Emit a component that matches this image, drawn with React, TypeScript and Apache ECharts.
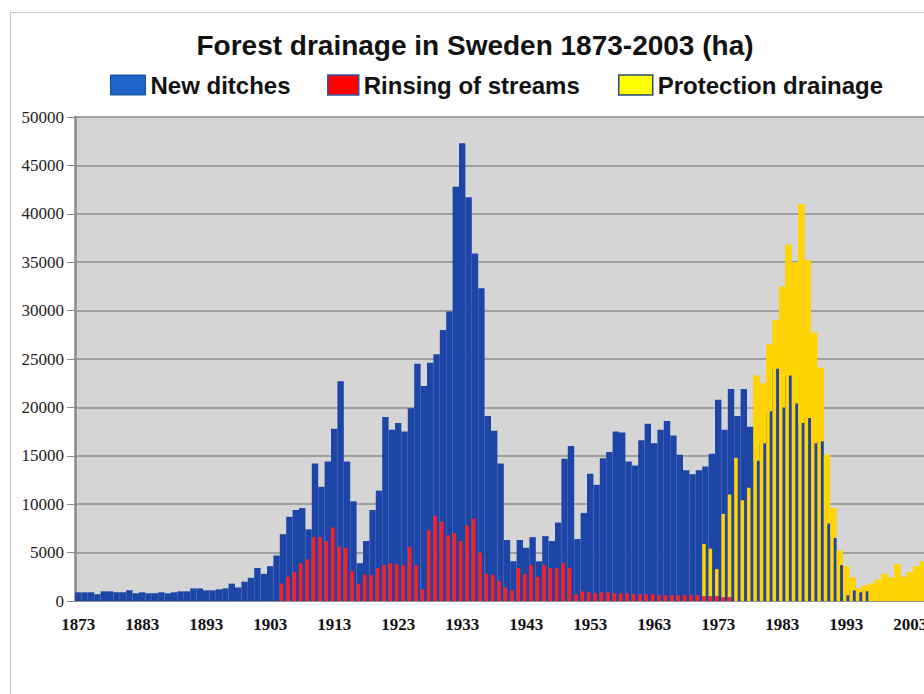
import React, { useEffect, useRef } from "react";
import * as echarts from "echarts";

const years = [
  "1873","1874","1875","1876","1877","1878","1879","1880","1881","1882",
  "1883","1884","1885","1886","1887","1888","1889","1890","1891","1892",
  "1893","1894","1895","1896","1897","1898","1899","1900","1901","1902",
  "1903","1904","1905","1906","1907","1908","1909","1910","1911","1912",
  "1913","1914","1915","1916","1917","1918","1919","1920","1921","1922",
  "1923","1924","1925","1926","1927","1928","1929","1930","1931","1932",
  "1933","1934","1935","1936","1937","1938","1939","1940","1941","1942",
  "1943","1944","1945","1946","1947","1948","1949","1950","1951","1952",
  "1953","1954","1955","1956","1957","1958","1959","1960","1961","1962",
  "1963","1964","1965","1966","1967","1968","1969","1970","1971","1972",
  "1973","1974","1975","1976","1977","1978","1979","1980","1981","1982",
  "1983","1984","1985","1986","1987","1988","1989","1990","1991","1992",
  "1993","1994","1995","1996","1997","1998","1999","2000","2001","2002",
  "2003","2004","2005","2006"
];

// New ditches (ha), 1873..2006
const newDitches = [
  900, 900, 900, 700, 1000, 1000, 900, 900, 1100, 800,
  900, 800, 800, 900, 800, 900, 1000, 1000, 1300, 1300,
  1100, 1100, 1200, 1300, 1800, 1400, 2000, 2400, 3400, 2800,
  3600, 4700, 6900, 8700, 9400, 9600, 7400, 14200, 11800, 14400,
  17800, 22700, 14400, 10300, 3900, 6200, 9400, 11400, 19000, 17700,
  18400, 17500, 19900, 24500, 22200, 24600, 25500, 28000, 29900, 42800,
  47300, 41700, 35900, 32300, 19100, 17600, 14200, 6300, 4100, 6300,
  5500, 6600, 4100, 6700, 6200, 8100, 14700, 16000, 6400, 9100,
  13150, 12000, 14750, 15400, 17500, 17400, 14400, 14000, 16600, 18300,
  16300, 17700, 18600, 17100, 15100, 13500, 13100, 13500, 13900, 15200,
  20800, 17700, 21900, 19100, 21900, 18000, 14500, 16300, 19600, 24000,
  20000, 23300, 20400, 18400, 18900, 16300, 16500, 8000, 6500, 3700,
  600, 1100, 900, 1000, null, null, null, null, null, null,
  null, null, null, null
];

// Rinsing of streams (ha), 1873..2006
const rinsingStreams = [
  null, null, null, null, null, null, null, null, null, null,
  null, null, null, null, null, null, null, null, null, null,
  null, null, null, null, null, null, null, null, null, null,
  null, null, 1800, 2500, 3000, 3900, 4300, 6600, 6600, 6200,
  7600, 5600, 5500, 3100, 1800, 2700, 2700, 3400, 3700, 3900,
  3800, 3700, 5600, 3700, 1200, 7300, 8800, 8200, 6800, 7000,
  6200, 7800, 8500, 5000, 2800, 2700, 2100, 1400, 1100, 3400,
  2800, 3700, 2500, 3700, 3400, 3400, 3900, 3400, 700, 1000,
  900, 800, 900, 900, 800, 800, 800, 700, 700, 700,
  700, 600, 600, 600, 600, 600, 600, 600, 500, 500,
  500, 400, 400, null, null, null, null, null, null, null,
  null, null, null, null, null, null, null, null, null, null,
  null, null, null, null, null, null, null, null, null, null,
  null, null, null, null
];

// Protection drainage (ha), 1873..2006
const protectionDrainage = [
  null, null, null, null, null, null, null, null, null, null,
  null, null, null, null, null, null, null, null, null, null,
  null, null, null, null, null, null, null, null, null, null,
  null, null, null, null, null, null, null, null, null, null,
  null, null, null, null, null, null, null, null, null, null,
  null, null, null, null, null, null, null, null, null, null,
  null, null, null, null, null, null, null, null, null, null,
  null, null, null, null, null, null, null, null, null, null,
  null, null, null, null, null, null, null, null, null, null,
  null, null, null, null, null, null, null, null, 5400, 4900,
  2800, 8600, 10600, 14800, 10400, 11700, 23300, 22500, 26500, 29000,
  32500, 36800, 35000, 41000, 35200, 27700, 24100, 15100, 9600, 5200,
  3600, 2400, 1300, 1600, 1800, 2200, 2800, 2400, 3800, 2500,
  3000, 3600, 4100, null
];

const yTicks = { min: 0, max: 50000, interval: 5000 };

export default function App() {
  const ref = useRef<HTMLDivElement>(null);
  useEffect(() => {
    if (!ref.current) return;
    const chart = echarts.init(ref.current, null, { renderer: "svg" });
    const legendText = {
      fontFamily: "Liberation Sans",
      fontWeight: "bold",
      fontSize: 24,
      color: "#111",
    };
    const gaps = { barGap: "-100%", barCategoryGap: "0%" };
    const BLUE = "#1d45a8";
    const RED = "#ff1f1f";
    const YELLOW = "#ffd400";
    chart.setOption({
      animation: false,
      backgroundColor: "transparent",
      title: {
        text: "Forest drainage in Sweden 1873-2003 (ha)",
        left: "center",
        top: 26,
        textStyle: {
          fontFamily: "Liberation Sans",
          fontWeight: "bold",
          fontSize: 28,
          color: "#111",
        },
      },
      legend: [
        {
          left: 110, top: 73, padding: 0, itemWidth: 35, itemHeight: 20,
          icon: "rect", textStyle: legendText, selectedMode: false,
          data: [{ name: "New ditches", itemStyle: { color: "#1f64c8", borderColor: "#1a4a9a", borderWidth: 1 } }],
        },
        {
          left: 327, top: 73, padding: 0, itemWidth: 31, itemHeight: 20,
          icon: "rect", textStyle: legendText, selectedMode: false,
          data: [{ name: "Rinsing of streams", itemStyle: { color: "#ff0000", borderColor: "#2a5aa8", borderWidth: 1.5 } }],
        },
        {
          left: 618, top: 73, padding: 0, itemWidth: 34, itemHeight: 20,
          icon: "rect", textStyle: legendText, selectedMode: false,
          data: [{ name: "Protection drainage", itemStyle: { color: "#ffff00", borderColor: "#2a4a78", borderWidth: 1.5 } }],
        },
      ],
      grid: {
        left: 75, right: 17.4, top: 117, bottom: 93,
        show: true, backgroundColor: "#d5d5d5", borderWidth: 0,
      },
      xAxis: {
        type: "category",
        data: years,
        boundaryGap: true,
        axisLine: { lineStyle: { color: "#8a8a8a", width: 1.5 } },
        axisTick: { interval: 4, length: 6, lineStyle: { color: "#8a8a8a" } },
        axisLabel: {
          interval: 9, margin: 15,
          fontFamily: "Liberation Serif", fontWeight: "bold", fontSize: 17, color: "#111",
        },
        splitLine: { show: false },
      },
      yAxis: {
        type: "value",
        min: yTicks.min, max: yTicks.max, interval: yTicks.interval,
        axisLine: { show: true, lineStyle: { color: "#8a8a8a", width: 2.5 } },
        axisTick: { show: true, length: 8, lineStyle: { color: "#8a8a8a" } },
        axisLabel: {
          margin: 11, fontFamily: "Liberation Serif", fontSize: 17, color: "#222",
          formatter: (v: number) => String(v),
        },
        splitLine: { lineStyle: { color: "#8c8c8c", width: 1.5 } },
      },
      series: [
        {
          name: "New ditches", type: "bar", data: newDitches, ...gaps,
          barWidth: "100%", z: 2,
          itemStyle: { color: BLUE },
        },
        {
          name: "Rinsing of streams", type: "bar", stack: "front", data: rinsingStreams, ...gaps,
          barWidth: "55%", z: 3,
          itemStyle: { color: RED },
        },
        {
          name: "Protection drainage", type: "bar", stack: "front", data: protectionDrainage, ...gaps,
          barWidth: "55%", z: 3,
          itemStyle: { color: YELLOW },
        },
        {
          name: "Protection drainage", type: "bar", data: protectionDrainage, ...gaps,
          barWidth: "100%", z: 1,
          itemStyle: { color: YELLOW },
        },
      ],
    });
    return () => chart.dispose();
  }, []);
  return (
    <div style={{ position: "fixed", left: 0, top: 0, width: 924, height: 694, overflow: "hidden", background: "#fff" }}>
      <div style={{ position: "absolute", left: 10, top: 12, width: 1000, height: 800, border: "1px solid #c8c8c8" }} />
      <div ref={ref} style={{ position: "absolute", left: 0, top: 0, width: 950, height: 694 }} />
    </div>
  );
}
